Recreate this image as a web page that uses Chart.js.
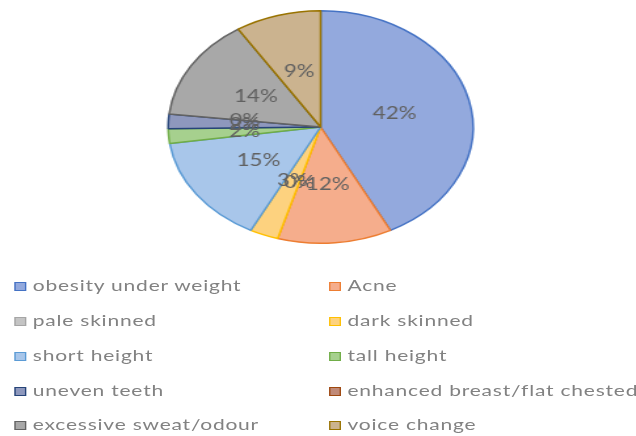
<!DOCTYPE html>
<html lang="en">
<head>
    <meta charset="UTF-8">
    <title>Adolescent concerns</title>
    <script src="https://cdn.jsdelivr.net/npm/chart.js"></script>
    <style>
        html, body { margin: 0; padding: 0; background: #fff; overflow: hidden; }
        /* the reference is stretched sideways, so draw narrow and widen */
        #wrap { position: absolute; left: 0; top: 0; width: 485px; height: 436px;
                transform: scaleX(1.3113); transform-origin: 0 0; }
        #pieChart { position: absolute; left: 0; top: 0; }
        .item { position: absolute; font-family: Lato, sans-serif; font-size: 16px; letter-spacing: 0.6px;
                color: #828282; white-space: nowrap; line-height: 20px; }
        .item span.box { display: inline-block; width: 7px; height: 7px; border: 1.5px solid;
                         margin-right: 5px; vertical-align: 0px; }
    </style>
</head>
<body>
<div id="wrap">
    <canvas id="pieChart" width="485" height="252"></canvas>
    <div id="legend"></div>
</div>
<script>
    // data
    var categories = ['obesity under weight', 'Acne', 'pale skinned', 'dark skinned', 'short height',
        'tall height', 'uneven teeth', 'enhanced breast/flat chested', 'excessive sweat/odour', 'voice change'];
    var percents = [42, 12, 0, 3, 15, 2, 2, 0, 14, 9];
    var fills = ['#93a9dd', '#f5ad8c', '#c4c4c4', '#fdd27f', '#a8c6ea',
        '#a6d08e', '#8e98bd', '#c08a78', '#a8a8a8', '#cbb38f'];
    var borders = ['#4472c4', '#ed7d31', '#a5a5a5', '#ffc000', '#5b9bd5',
        '#70ad47', '#264478', '#9e480e', '#636363', '#997300'];

    // percent labels in the middle of each slice
    var sliceLabels = {
        id: 'sliceLabels',
        afterDatasetsDraw: function (chart) {
            var ctx = chart.ctx;
            ctx.save();
            ctx.font = '17px Lato, sans-serif';
            ctx.fillStyle = '#616161';
            ctx.textAlign = 'center';
            ctx.textBaseline = 'middle';
            chart.getDatasetMeta(0).data.forEach(function (arc, i) {
                var p = arc.tooltipPosition();
                ctx.fillText(percents[i] + '%', p.x, p.y);
            });
            ctx.restore();
        }
    };

    var ctx = document.getElementById('pieChart').getContext('2d');
    var chart = new Chart(ctx, {
        type: 'pie',
        data: {
            labels: categories,
            datasets: [{
                data: percents,
                backgroundColor: fills,
                borderColor: borders,
                borderWidth: 1.5
            }]
        },
        options: {
            responsive: false,
            animation: false,
            layout: { padding: { top: 10, bottom: 8, left: 4, right: 0 } },
            plugins: {
                legend: { display: false },
                tooltip: { enabled: false }
            }
        },
        plugins: [sliceLabels]
    });

    // legend in two columns, like the original
    var legend = document.getElementById('legend');
    var colX = [11, 251];
    var rowY = [275, 310, 345, 380, 414];
    categories.forEach(function (name, i) {
        var el = document.createElement('div');
        el.className = 'item';
        el.style.left = colX[i % 2] + 'px';
        el.style.top = rowY[Math.floor(i / 2)] + 'px';
        var box = document.createElement('span');
        box.className = 'box';
        box.style.background = fills[i];
        box.style.borderColor = borders[i];
        el.appendChild(box);
        el.appendChild(document.createTextNode(name));
        legend.appendChild(el);
    });
</script>
</body>
</html>
